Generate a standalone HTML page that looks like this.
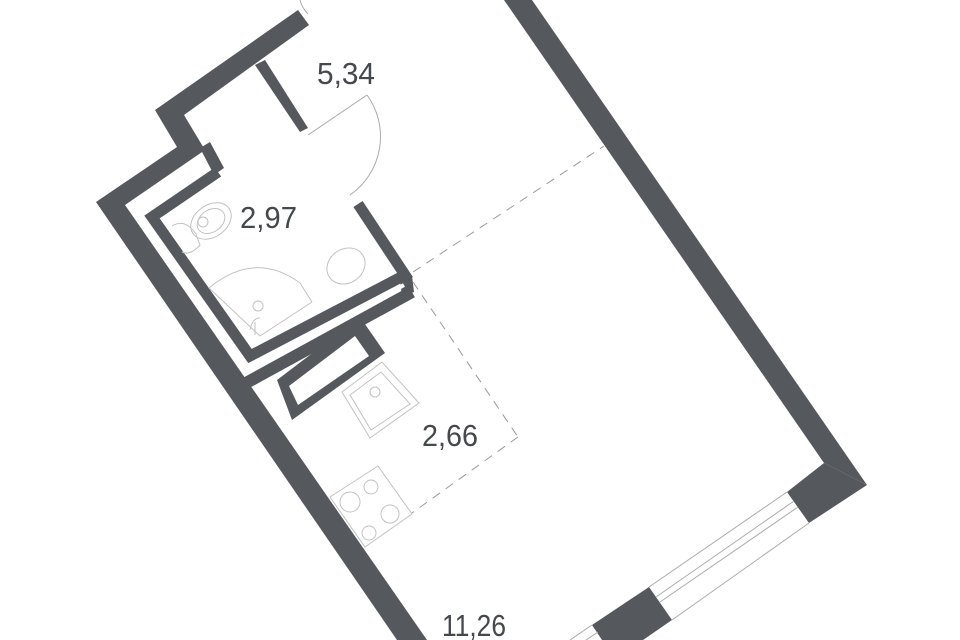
<!DOCTYPE html>
<html><head><meta charset="utf-8"><style>
html,body{margin:0;padding:0;background:#fff;}
svg{display:block;}
text{font-family:"Liberation Sans",sans-serif;fill:#45484d;font-size:31px;}
</style></head><body>
<svg width="960" height="640" viewBox="0 0 960 640" xmlns="http://www.w3.org/2000/svg">
<g fill="#55585d" stroke="none">
  <polygon points="96,202 177,147 155,110 298,10 309,25 184,115 205,150 125,205 427,640 397,640"/>
  <polygon points="200,148 210,142 224,168 214,175"/>
  <polygon points="255,65 265,60 308,128 300,132"/>
  <polygon points="504,0 532,0 867,485 824,463"/>
  <polygon points="787,492 824,463 867,485 809,523"/>
  <polygon points="592,625 649,587 672,620 643,640 602,640"/>
  <polygon points="277,380 360,317 385,353 292,420"/>
  <polygon points="398,266 412,276 414,292 402,296"/>
</g>
<polygon points="289,386 355,336 369,356 298,405" fill="#fff"/>
<g fill="none" stroke="#55585d" stroke-linejoin="miter">
  <polyline points="218,172 152,217 250,356 405,275 358,204" stroke-width="11"/>
  <polyline points="246,383 412,292" stroke-width="12"/>
</g>
<line x1="252" y1="368" x2="404" y2="285" stroke="#fff" stroke-width="4"/>
<g stroke="#aaa" stroke-width="1" fill="none">
  <line x1="787" y1="492" x2="649" y2="587"/>
  <line x1="794" y1="501" x2="656" y2="597"/>
  <line x1="798" y1="507" x2="660" y2="602"/>
  <line x1="809" y1="523" x2="672" y2="620"/>
  <line x1="592" y1="625" x2="570" y2="640"/>
  <line x1="598" y1="632" x2="586" y2="640"/>
  <line x1="308" y1="135" x2="367" y2="95"/>
  <path d="M367,95 A71,71 0 0 1 350,195"/>
  <path d="M300,0 Q302,8 308,14"/>
</g>
<g stroke="#999" stroke-width="1" stroke-dasharray="9,7" fill="none">
  <line x1="413" y1="272" x2="604" y2="146"/>
  <line x1="413" y1="282" x2="518" y2="437"/>
  <line x1="518" y1="437" x2="412" y2="513"/>
</g>
<g stroke="#c2c2c2" stroke-width="1" fill="none">
  <polygon points="342,392 382,362 419,403 370,438"/>
  <polygon points="350,395 381,372 410,404 371,430"/>
  <circle cx="375" cy="392" r="5"/>
  <polygon points="330,497 378,466 412,514 365,547"/>
  <circle cx="350" cy="502" r="10"/>
  <circle cx="371" cy="487" r="7"/>
  <circle cx="390" cy="514" r="9"/>
  <circle cx="369" cy="533" r="7"/>
  <ellipse cx="211" cy="221" rx="22" ry="16" transform="rotate(-35 211 221)"/>
  <ellipse cx="211" cy="221" rx="15" ry="11" transform="rotate(-35 211 221)"/>
  <circle cx="203" cy="222" r="5"/>
  <path d="M172,226 Q185,218 196,234 L200,245 Q190,256 182,252"/>
  <ellipse cx="346" cy="266" rx="20" ry="17" transform="rotate(-35 346 266)"/>
  <path d="M209,288 Q255,250 300,283 L312,302"/>
  <line x1="209" y1="288" x2="260" y2="336"/>
  <line x1="260" y1="336" x2="312" y2="302"/>
  <circle cx="258" cy="306" r="5"/>
  <path d="M250,330 Q252,318 260,318 M255,322 L255,335"/>
</g>
<text x="317" y="84" textLength="58" lengthAdjust="spacingAndGlyphs">5,34</text>
<text x="240" y="228" textLength="57" lengthAdjust="spacingAndGlyphs">2,97</text>
<text x="422" y="446" textLength="56" lengthAdjust="spacingAndGlyphs">2,66</text>
<text x="442" y="636" textLength="64" lengthAdjust="spacingAndGlyphs">11,26</text>
</svg>
</body></html>
